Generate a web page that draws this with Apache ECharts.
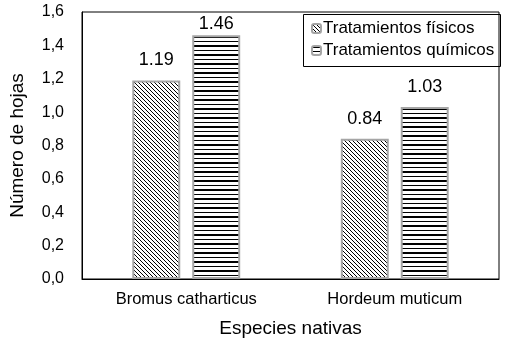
<!DOCTYPE html>
<html>
<head>
<meta charset="utf-8">
<script src="https://cdn.jsdelivr.net/npm/echarts@6/dist/echarts.min.js"></script>
<style>
html,body{margin:0;padding:0;background:#fff;}
#c{width:508px;height:343px;}
</style>
</head>
<body>
<div id="c"></div>
<script>
const categories = ['Bromus catharticus', 'Hordeum muticum'];
const seriesNames = ['Tratamientos físicos', 'Tratamientos químicos'];
const fisicos = [1.19, 0.84];
const quimicos = [1.46, 1.03];
const yTicks = ['0,0','0,2','0,4','0,6','0,8','1,0','1,2','1,4','1,6'];

function diagPattern() {
  const c = document.createElement('canvas');
  c.width = 4; c.height = 4;
  const g = c.getContext('2d');
  g.fillStyle = '#fff'; g.fillRect(0,0,4,4);
  g.fillStyle = '#000';
  for (let i = 0; i < 4; i++) g.fillRect(i, i, 1, 1);
  return c;
}
function horizPattern() {
  const c = document.createElement('canvas');
  c.width = 4; c.height = 9;
  const g = c.getContext('2d');
  g.fillStyle = '#fff'; g.fillRect(0,0,4,9);
  g.fillStyle = '#000';
  g.fillRect(0, 0, 4, 2);
  g.fillRect(0, 5, 4, 1);
  return c;
}
const FONT = '"Liberation Sans", Arial, sans-serif';
const chart = echarts.init(document.getElementById('c'), null, {renderer: 'canvas'});
const labelCfg = {
  show: true, position: 'top', distance: 11,
  color: '#000', fontSize: 18, fontFamily: FONT,
  formatter: p => p.value.toFixed(2)
};
function items(arr) {
  // labels that would leave the plot area are pulled closer to the bar (as in the source)
  return arr.map(v => v > 1.4 ? {value: v, label: {distance: 2}} : v);
}
chart.setOption({
  animation: false,
  backgroundColor: '#fff',
  textStyle: {fontFamily: FONT},
  grid: {left: 76, top: 12, right: 9, bottom: 64, show: true, borderColor: '#000', borderWidth: 1, containLabel: false},
  legend: {
    orient: 'vertical', left: 306, top: 15, itemGap: 5,
    itemWidth: 9, itemHeight: 9,
    textStyle: {fontSize: 17, color: '#000', fontFamily: FONT, padding: [0,0,0,-3]},
    data: seriesNames
  },
  graphic: [{
    type: 'rect', left: 301, top: 12,
    shape: {width: 197, height: 52},
    style: {fill: 'none', stroke: '#000', lineWidth: 1}, z: 100
  }],
  xAxis: {
    type: 'category', data: categories,
    name: 'Especies nativas', nameLocation: 'middle', nameGap: 40,
    nameTextStyle: {fontSize: 19, color: '#000', fontFamily: FONT},
    axisLine: {lineStyle: {color: '#000'}},
    axisTick: {show: false},
    axisLabel: {fontSize: 16.5, color: '#000', margin: 12, fontFamily: FONT}
  },
  yAxis: {
    type: 'value', min: 0, max: 1.6, interval: 0.2,
    name: 'Número de hojas', nameLocation: 'middle', nameGap: 55, nameRotate: 90,
    nameTextStyle: {fontSize: 19, color: '#000', fontFamily: FONT},
    axisLine: {show: true, lineStyle: {color: '#000'}},
    axisTick: {show: false},
    splitLine: {show: false},
    axisLabel: {fontSize: 16, color: '#000', margin: 18, fontFamily: FONT,
      formatter: (v) => yTicks[Math.round(v / 0.2)]}
  },
  series: [
    {name: seriesNames[0], type: 'bar', data: items(fisicos), barWidth: '23%', barGap: '25%',
     itemStyle: {color: {image: diagPattern(), repeat: 'repeat'}, borderColor: '#a5a5a5', borderWidth: 2},
     label: labelCfg},
    {name: seriesNames[1], type: 'bar', data: items(quimicos), barWidth: '23%',
     itemStyle: {color: {image: horizPattern(), repeat: 'repeat'}, borderColor: '#a5a5a5', borderWidth: 2},
     label: labelCfg}
  ]
});
</script>
</body>
</html>
